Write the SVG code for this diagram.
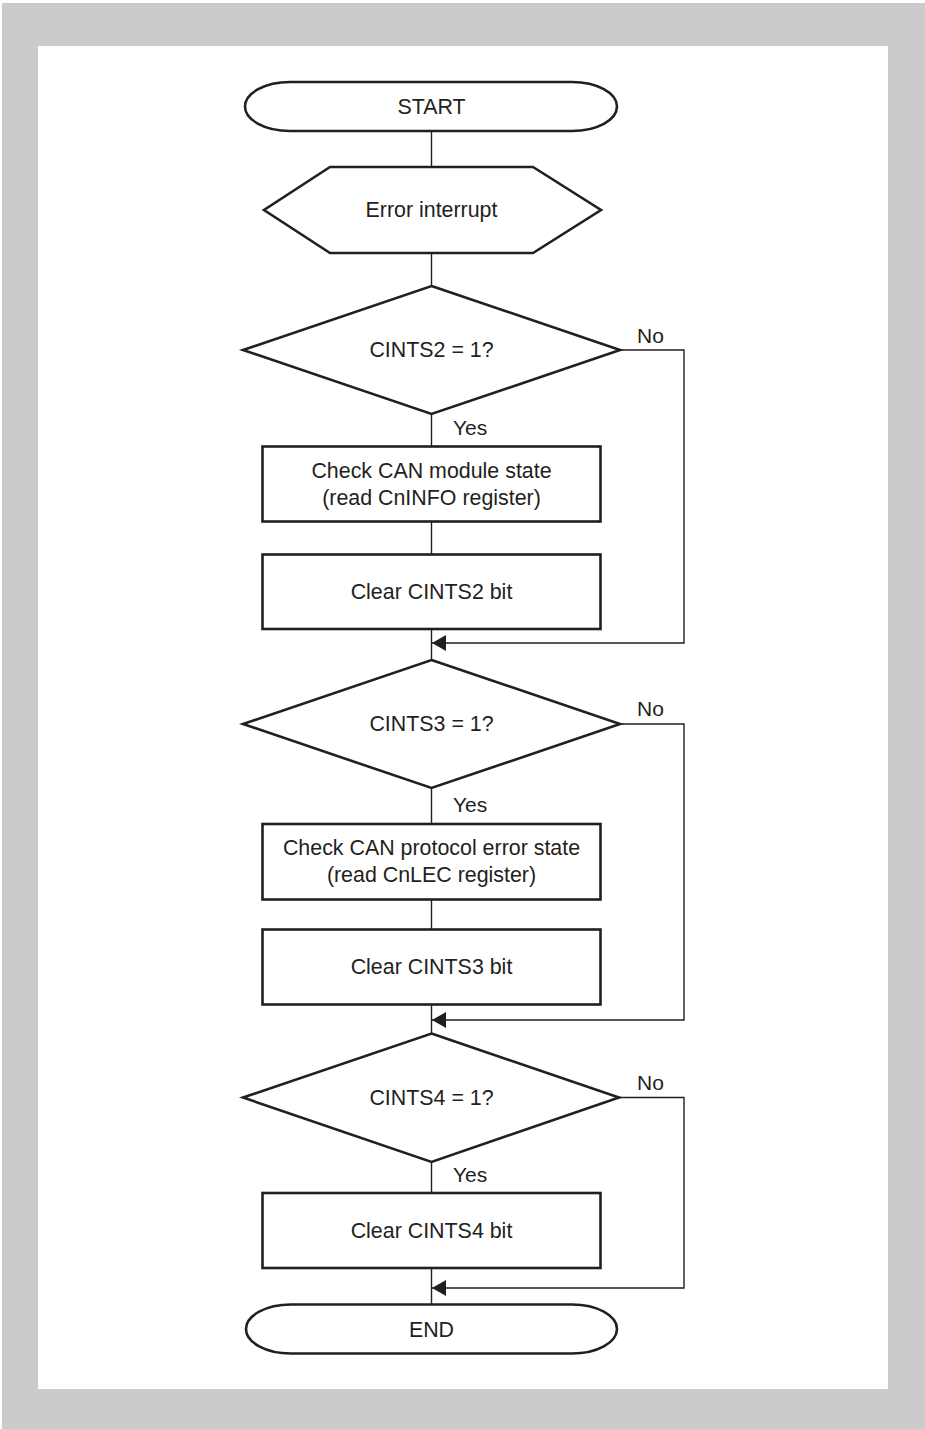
<svg xmlns="http://www.w3.org/2000/svg" width="925" height="1429" viewBox="0 0 925 1429">
<defs>
<style>
.bg{fill:#cbcbcb}
.panel{fill:#ffffff}
.shape{fill:#ffffff;stroke:#231f20;stroke-width:2.6;stroke-linejoin:miter}
.conn{fill:none;stroke:#231f20;stroke-width:1.4}
.t{font-family:"Liberation Sans",Arial,sans-serif;font-size:21.4px;fill:#231f20;text-anchor:middle}
.lbl{font-family:"Liberation Sans",Arial,sans-serif;font-size:21px;fill:#231f20}
</style>
<marker id="arr" viewBox="0 0 14 16" refX="14" refY="8" markerWidth="14" markerHeight="16" markerUnits="userSpaceOnUse" orient="auto">
<path d="M0,0 L14,8 L0,16 Z" fill="#231f20"/>
</marker>
</defs>
<rect x="0" y="0" width="925" height="1429" fill="#ffffff"/>
<rect class="bg" x="2" y="3" width="923" height="1426"/>
<rect class="panel" x="38" y="46" width="850" height="1343"/>

<g id="connectors">
<line class="conn" x1="431.5" y1="131" x2="431.5" y2="167"/>
<line class="conn" x1="431.5" y1="253" x2="431.5" y2="286"/>
<line class="conn" x1="431.5" y1="414" x2="431.5" y2="446.5"/>
<line class="conn" x1="431.5" y1="521.5" x2="431.5" y2="554.5"/>
<line class="conn" x1="431.5" y1="629" x2="431.5" y2="660"/>
<polyline class="conn" points="620,350 684,350 684,643 432,643" marker-end="url(#arr)"/>
<line class="conn" x1="431.5" y1="788" x2="431.5" y2="824"/>
<line class="conn" x1="431.5" y1="899.5" x2="431.5" y2="929.5"/>
<line class="conn" x1="431.5" y1="1004.5" x2="431.5" y2="1033.5"/>
<polyline class="conn" points="620,724 684,724 684,1020 432,1020" marker-end="url(#arr)"/>
<line class="conn" x1="431.5" y1="1162" x2="431.5" y2="1193"/>
<line class="conn" x1="431.5" y1="1268" x2="431.5" y2="1304"/>
<polyline class="conn" points="619,1097.5 684,1097.5 684,1288 432,1288" marker-end="url(#arr)"/>
<text class="lbl" x="637" y="343">No</text>
<text class="lbl" x="453" y="435">Yes</text>
<text class="lbl" x="637" y="716">No</text>
<text class="lbl" x="453" y="812">Yes</text>
<text class="lbl" x="637" y="1090">No</text>
<text class="lbl" x="453" y="1182">Yes</text>
</g>

<g id="start">
<path class="shape" d="M290,82 H572 A45,24.5 0 0 1 572,131 H290 A45,24.5 0 0 1 290,82 Z"/>
<text class="t" x="431.5" y="114">START</text>
</g>

<g id="error-interrupt">
<polygon class="shape" points="330,167 533,167 601,210 533,253 330,253 264,210"/>
<text class="t" x="431.5" y="217">Error interrupt</text>
</g>

<g id="cints2-decision">
<polygon class="shape" points="431.5,286 620,350 431.5,414 243,350"/>
<text class="t" x="431.5" y="357">CINTS2 = 1?</text>
</g>

<g id="check-module-state">
<rect class="shape" x="262.5" y="446.5" width="338" height="75"/>
<text class="t" x="431.5" y="478">Check CAN module state</text>
<text class="t" x="431.5" y="505">(read CnINFO register)</text>
</g>

<g id="clear-cints2">
<rect class="shape" x="262.5" y="554.5" width="338" height="74.5"/>
<text class="t" x="431.5" y="599">Clear CINTS2 bit</text>
</g>

<g id="cints3-decision">
<polygon class="shape" points="431.5,660 620,724 431.5,788 243,724"/>
<text class="t" x="431.5" y="731">CINTS3 = 1?</text>
</g>

<g id="check-protocol-error">
<rect class="shape" x="262.5" y="824" width="338" height="75.5"/>
<text class="t" x="431.5" y="855">Check CAN protocol error state</text>
<text class="t" x="431.5" y="882">(read CnLEC register)</text>
</g>

<g id="clear-cints3">
<rect class="shape" x="262.5" y="929.5" width="338" height="75"/>
<text class="t" x="431.5" y="974">Clear CINTS3 bit</text>
</g>

<g id="cints4-decision">
<polygon class="shape" points="431.5,1033.5 619,1097.5 431.5,1162 243,1097.5"/>
<text class="t" x="431.5" y="1105">CINTS4 = 1?</text>
</g>

<g id="clear-cints4">
<rect class="shape" x="262.5" y="1193" width="338" height="75"/>
<text class="t" x="431.5" y="1238">Clear CINTS4 bit</text>
</g>

<g id="end">
<path class="shape" d="M291,1304.5 H572 A45,24.5 0 0 1 572,1353.5 H291 A45,24.5 0 0 1 291,1304.5 Z"/>
<text class="t" x="431.5" y="1337">END</text>
</g>
</svg>
